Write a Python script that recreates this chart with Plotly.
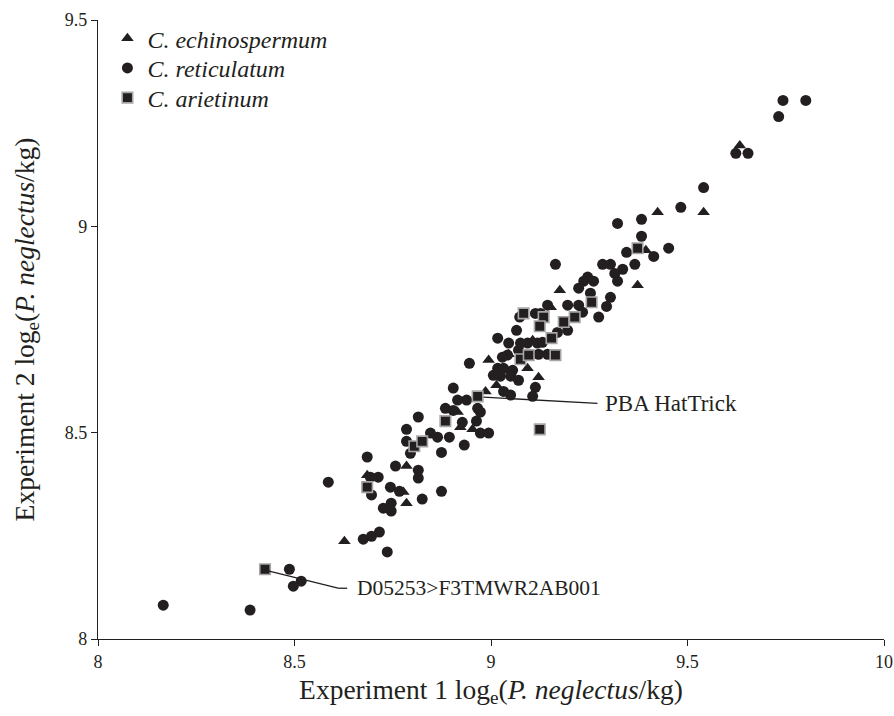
import plotly.graph_objects as go

# C. echinospermum (triangles)
echi_x = [9.633, 9.424, 9.541, 9.394, 9.373, 9.175, 9.152, 9.106, 9.045, 8.994, 9.093,
          9.121, 9.014, 8.986, 8.915, 8.922, 8.953, 8.785, 8.685, 8.777, 8.785, 8.627]
echi_y = [9.196, 9.034, 9.034, 8.942, 8.857, 8.845, 8.804, 8.724, 8.690, 8.676, 8.656,
          8.634, 8.615, 8.600, 8.550, 8.513, 8.508, 8.419, 8.397, 8.356, 8.329, 8.237]

# C. reticulatum (circles)
reti_x = [9.801, 9.743, 9.732, 9.623, 9.654, 9.541, 9.483, 9.322, 9.383, 9.383, 9.345,
          9.414, 9.452, 9.164, 9.284, 9.304, 9.366, 9.335, 9.315, 9.322, 9.246, 9.236,
          9.261, 9.223, 9.253, 9.304, 9.294, 9.274, 9.144, 9.195, 9.223, 9.233, 9.073,
          9.113, 9.126, 9.065, 9.017, 9.045, 9.075, 9.093, 9.118, 9.131, 9.169, 9.195,
          9.070, 9.121, 9.144, 9.042, 9.029, 8.945, 9.017, 9.032, 9.055, 9.006, 9.024,
          9.050, 9.070, 9.113, 9.106, 9.032, 9.050, 8.904, 8.915, 8.938, 8.884, 8.904,
          8.966, 8.973, 8.815, 8.927, 8.963, 8.973, 8.994, 8.785, 8.846, 8.864, 8.894,
          8.785, 8.932, 8.874, 8.795, 8.685, 8.757, 8.815, 8.815, 8.693, 8.713, 8.586,
          8.696, 8.744, 8.767, 8.746, 8.726, 8.746, 8.825, 8.874, 8.675, 8.696, 8.716,
          8.736, 8.487, 8.517, 8.497, 8.387, 8.166]
reti_y = [9.305, 9.305, 9.266, 9.177, 9.177, 9.094, 9.046, 9.007, 9.017, 8.976, 8.937,
          8.927, 8.947, 8.908, 8.908, 8.908, 8.908, 8.896, 8.886, 8.867, 8.877, 8.867,
          8.867, 8.850, 8.838, 8.828, 8.806, 8.780, 8.809, 8.809, 8.809, 8.792, 8.780,
          8.789, 8.789, 8.748, 8.729, 8.717, 8.717, 8.717, 8.717, 8.719, 8.743, 8.748,
          8.700, 8.690, 8.690, 8.688, 8.683, 8.668, 8.656, 8.656, 8.651, 8.639, 8.637,
          8.637, 8.627, 8.610, 8.588, 8.600, 8.591, 8.608, 8.579, 8.579, 8.559, 8.554,
          8.559, 8.550, 8.538, 8.525, 8.528, 8.499, 8.499, 8.508, 8.499, 8.489, 8.489,
          8.479, 8.470, 8.452, 8.450, 8.441, 8.419, 8.409, 8.390, 8.392, 8.392, 8.380,
          8.349, 8.368, 8.358, 8.329, 8.317, 8.310, 8.339, 8.358, 8.242, 8.249, 8.259,
          8.211, 8.169, 8.140, 8.128, 8.070, 8.082]

# C. arietinum (squares)
arie_x = [8.425, 8.685, 8.805, 8.825, 8.884, 8.966, 9.124, 9.075, 9.096, 9.164, 9.154,
          9.083, 9.134, 9.124, 9.185, 9.213, 9.256, 9.373]
arie_y = [8.169, 8.368, 8.467, 8.479, 8.528, 8.588, 8.508, 8.678, 8.688, 8.688, 8.729,
          8.789, 8.780, 8.758, 8.768, 8.780, 8.816, 8.947]

x_ticks = [8, 8.5, 9, 9.5, 10]
x_labels = ["8", "8.5", "9", "9.5", "10"]
y_ticks = [8, 8.5, 9, 9.5]
y_labels = ["8", "8.5", "9", "9.5"]

ink = "#231f20"
serif = "Liberation Serif"

fig = go.Figure()
fig.add_trace(go.Scatter(x=echi_x, y=echi_y, mode="markers", name="<i>C. echinospermum</i>",
                         legend="legend",
                         marker=dict(symbol="triangle-up", size=11, color=ink, line=dict(width=0))))
fig.add_trace(go.Scatter(x=reti_x, y=reti_y, mode="markers", name="<i>C. reticulatum</i>",
                         legend="legend2",
                         marker=dict(symbol="circle", size=11, color=ink, line=dict(width=0))))
fig.add_trace(go.Scatter(x=arie_x, y=arie_y, mode="markers", name="<i>C. arietinum</i>",
                         legend="legend3",
                         marker=dict(symbol="square", size=10.5, color=ink,
                                     line=dict(width=1.6, color="#a6a6a6"))))

# leader lines for labelled genotypes
fig.add_shape(type="line", x0=8.981, y0=8.586, x1=9.271, y1=8.571,
              line=dict(color=ink, width=1.3))
fig.add_shape(type="line", x0=8.433, y0=8.165, x1=8.611, y1=8.123,
              line=dict(color=ink, width=1.3))
fig.add_shape(type="line", x0=8.611, y0=8.123, x1=8.634, y1=8.123,
              line=dict(color=ink, width=1.3))
fig.add_annotation(x=9.285, y=8.571, text="PBA HatTrick", showarrow=False,
                   xanchor="left", yanchor="middle", font=dict(family=serif, size=23, color=ink))
fig.add_annotation(x=8.655, y=8.123, text="D05253&gt;F3TMWR2AB001", showarrow=False,
                   xanchor="left", yanchor="middle", font=dict(family=serif, size=21.5, color=ink))

axis_common = dict(showgrid=False, zeroline=False, showline=True, linecolor=ink, linewidth=1.4,
                   ticks="outside", ticklen=6, tickwidth=1.2, tickcolor=ink, automargin=False,
                   ticklabeloverflow="allow",
                   tickfont=dict(family=serif, size=18, color=ink))

legend_common = dict(x=0.012, xanchor="left", yanchor="middle",
                     font=dict(family=serif, size=24, color=ink),
                     bgcolor="rgba(0,0,0,0)", itemwidth=30)

fig.update_layout(
    width=894, height=716,
    paper_bgcolor="white", plot_bgcolor="white",
    margin=dict(l=98, r=10, t=20, b=77),
    font=dict(family=serif, color=ink),
    hovermode=False,
    xaxis=dict(range=[8, 10], tickvals=x_ticks, ticktext=x_labels,
               title=dict(text="Experiment 1 log<sub>e</sub>(<i>P. neglectus</i>/kg)",
                          font=dict(family=serif, size=27.5, color=ink), standoff=8),
               **axis_common),
    yaxis=dict(range=[8, 9.5], tickvals=y_ticks, ticktext=y_labels,
               title=dict(text="Experiment 2 log<sub>e</sub>(<i>P. neglectus</i>/kg)",
                          font=dict(family=serif, size=27.5, color=ink), standoff=22),
               **axis_common),
    legend=dict(y=0.970, **legend_common),
    legend2=dict(y=0.922, **legend_common),
    legend3=dict(y=0.874, **legend_common),
    showlegend=True,
)

fig.write_html("out.html",
               config={"displayModeBar": False},
               post_script="document.body.style.margin='0px';"
                           "document.documentElement.style.overflow='hidden';")
